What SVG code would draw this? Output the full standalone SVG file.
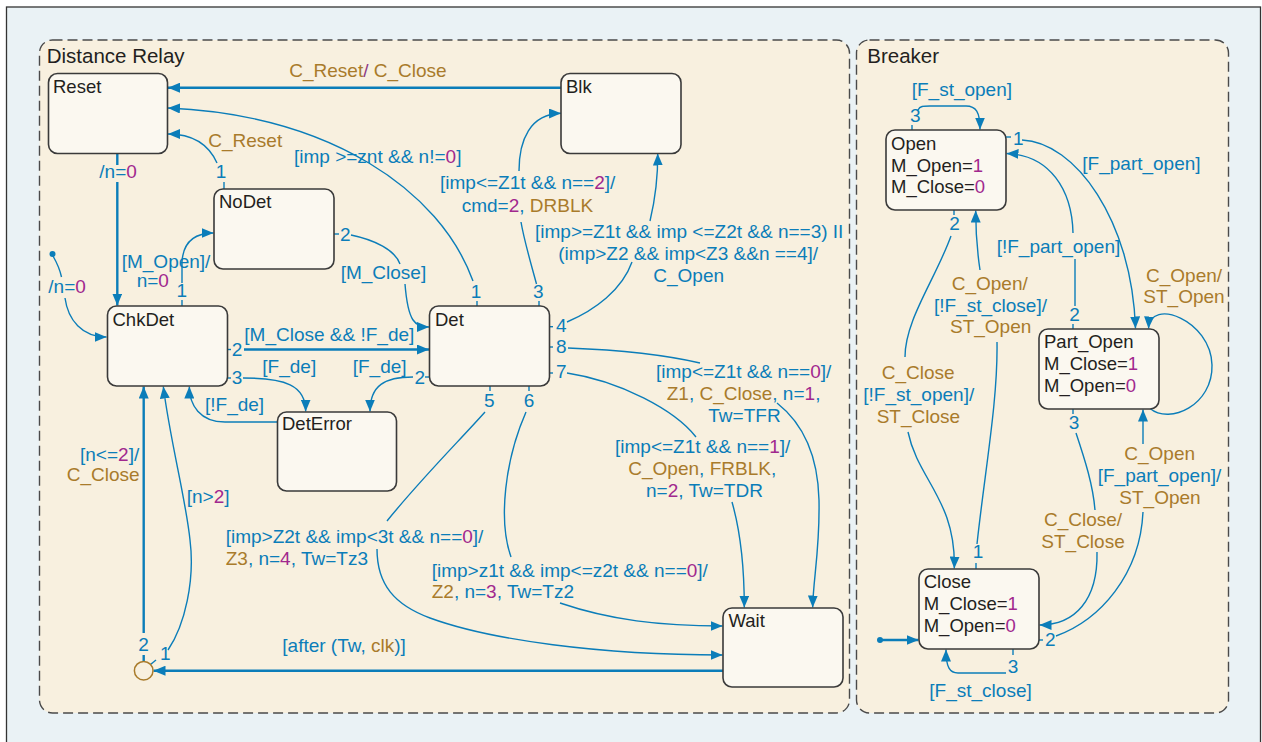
<svg xmlns="http://www.w3.org/2000/svg" width="1262" height="742" viewBox="0 0 1262 742">
<defs>
<marker id="ah" viewBox="0 0 12 10" refX="12" refY="5" markerWidth="12" markerHeight="10" orient="auto" markerUnits="userSpaceOnUse"><path d="M0,0 L12,5 L0,10 z" fill="#0b7db9"/></marker>
<style>
text{font-family:"Liberation Sans",Arial,sans-serif}
.t{font-size:19px;fill:#0b7db9}
.g{fill:#a97b2b}
.m{fill:#a1288e}
.sl{fill:#8d3a86}
.mid{text-anchor:middle}
.nl{font-size:18.5px;fill:#231f20}
.ttl{font-size:20.5px;fill:#231f20}
.c{fill:none;stroke:#0b7db9;stroke-width:1.4}
.k{fill:none;stroke:#0b7db9;stroke-width:2.4}
.a{marker-end:url(#ah)}
.st{fill:#fbf8f0;stroke:#3a3a3a;stroke-width:1.6}
.box{fill:#f8f0df;stroke:#4a4a4a;stroke-width:1.4;stroke-dasharray:10 5}
.dot{fill:#0b7db9}
</style>
</defs>
<rect x="0" y="0" width="1262" height="742" fill="#ffffff"/>
<rect x="6.5" y="7" width="1254" height="745" fill="#eaf2f5" stroke="#333" stroke-width="1.3"/>

<g id="container-distance-relay">
<rect class="box" x="39.5" y="40" width="810" height="673" rx="13"/>
<text class="ttl" x="46.7" y="62.7">Distance Relay</text>
</g>
<g id="container-breaker">
<rect class="box" x="856.5" y="40" width="372" height="673" rx="13"/>
<text class="ttl" x="867.3" y="62.7">Breaker</text>
</g>

<g id="connectors">
<!-- Blk -> Reset -->
<path class="k a" d="M561,87.7 L168,87.7"/>
<text class="t" x="289.3" y="77.3"><tspan class="g">C_Reset</tspan><tspan class="sl">/</tspan> <tspan class="g">C_Close</tspan></text>
<!-- Det(1) -> Reset -->
<path class="c" d="M477,306 L477,301"/>
<text class="t mid" x="476" y="298.3">1</text>
<path class="c a" d="M473,281 C440,190 330,115 168,108"/>
<text class="t" x="294" y="163.3">[imp &gt;=znt &amp;&amp; n!=<tspan class="m">0</tspan>]</text>
<!-- NoDet(1) -> Reset -->
<path class="c" d="M224,189 L224,182"/>
<text class="t mid" x="221" y="177.5">1</text>
<path class="c a" d="M217,163 C208,143 190,134 168,134"/>
<text class="t g" x="208.3" y="147.3">C_Reset</text>
<!-- Reset -> ChkDet -->
<path class="k" d="M117.3,153.5 L117.3,165"/>
<path class="k a" d="M117.3,182 L117.3,305.5"/>
<text class="t" x="99.3" y="178.3">/n=<tspan class="m">0</tspan></text>
<!-- default -> ChkDet -->
<circle class="dot" cx="52.5" cy="254" r="3"/>
<path class="c" d="M53,256 C57,263 60,270 61.5,277"/>
<path class="c a" d="M65,298 C68,320 82,337 106.5,337"/>
<text class="t" x="48.3" y="292.7">/n=<tspan class="m">0</tspan></text>
<!-- ChkDet(1) -> NoDet -->
<path class="c" d="M182,306 L182,300"/>
<text class="t mid" x="181.7" y="296.7">1</text>
<path class="c a" d="M182,283 L182,262 C183,245 192,233 213.5,233"/>
<text class="t" x="121.7" y="267.7">[M_Open]/</text>
<text class="t" x="136.7" y="287.3">n=<tspan class="m">0</tspan></text>
<!-- NoDet(2) -> Det -->
<path class="c" d="M334,234 L339,234"/>
<text class="t" x="340" y="241">2</text>
<path class="c" d="M351,235 C375,240 395,250 400,264"/>
<path class="c a" d="M405,284 C408,322 415,327 429,327"/>
<text class="t" x="340.7" y="279.3">[M_Close]</text>
<!-- ChkDet(2) -> Det -->
<path class="c" d="M227.5,349.5 L231,349.5"/>
<text class="t" x="231.7" y="355.7">2</text>
<path class="k a" d="M244,349.5 L429,349.5"/>
<text class="t" x="244.3" y="341">[M_Close &amp;&amp; !F_de]</text>
<!-- ChkDet(3) -> DetError -->
<path class="c" d="M227.5,378 L231,378"/>
<text class="t" x="231.7" y="384">3</text>
<path class="c a" d="M243,378 C285,378 305.7,385 305.7,411.5"/>
<text class="t" x="262.3" y="373.3">[F_de]</text>
<!-- Det(2) -> DetError -->
<path class="c" d="M429.5,377 L425,377"/>
<text class="t" x="414.5" y="384">2</text>
<path class="c a" d="M413,377 C385,377 370,385 370,411.5"/>
<text class="t" x="352.7" y="373.3">[F_de]</text>
<!-- DetError -> ChkDet -->
<path class="c a" d="M277.5,422 L225,422 C200,422 189.3,405 189.3,386.5"/>
<text class="t" x="205" y="410.7">[!F_de]</text>
<!-- Junction(2) -> ChkDet -->
<path class="k" d="M143.7,661.4 L143.7,655"/>
<text class="t" x="138.3" y="650.7">2</text>
<path class="k a" d="M143.7,633 L143.7,386.5"/>
<text class="t" x="80" y="460.7">[n&lt;=<tspan class="m">2</tspan>]/</text>
<text class="t g" x="66.7" y="480.7">C_Close</text>
<!-- Junction(1) -> ChkDet -->
<path class="c" d="M150.5,664.5 L156,660"/>
<text class="t" x="160" y="660">1</text>
<path class="c a" d="M168,650 C185,625 195,580 190,540 C186,500 170,440 163.3,386.5"/>
<text class="t" x="186.7" y="502.7">[n&gt;<tspan class="m">2</tspan>]</text>
<!-- Wait -> Junction -->
<path class="k a" d="M723,670.7 L153.5,670.7"/>
<text class="t" x="282.3" y="652.3">[after (Tw, <tspan class="g">clk</tspan>)]</text>
<!-- Det(3) -> Blk -->
<path class="c" d="M539,306 L539,301"/>
<text class="t mid" x="538.3" y="298.3">3</text>
<path class="c" d="M536.5,284 C530,260 524,240 521,222"/>
<path class="c a" d="M519,171 C519,140 530,114 561,113.3"/>
<text class="t" x="440" y="189.3">[imp&lt;=Z1t &amp;&amp; n==<tspan class="m">2</tspan>]/</text>
<text class="t" x="461.7" y="211.7">cmd=<tspan class="m">2</tspan>, <tspan class="g">DRBLK</tspan></text>
<!-- Det(4) -> Blk -->
<path class="c" d="M549.5,326.7 L553,326.7"/>
<text class="t" x="556" y="331.7">4</text>
<path class="c" d="M567,322 C595,310 622,290 632,262"/>
<path class="c a" d="M650,221 C655,200 658,180 657.7,153.5"/>
<text class="t" x="535" y="238.3">[imp&gt;=Z1t &amp;&amp; imp &lt;=Z2t &amp;&amp; n==3) II</text>
<text class="t" x="558.3" y="260">(imp&gt;Z2 &amp;&amp; imp&lt;Z3 &amp;&amp;n ==4]/</text>
<text class="t" x="653.3" y="281.7">C_Open</text>
<!-- Det(8) -> Wait -->
<path class="c" d="M549.5,347 L553,347"/>
<text class="t" x="556" y="352.7">8</text>
<path class="c" d="M568,348 C620,350 670,356 700,363"/>
<path class="c a" d="M777,403 C805,425 818,460 819,500 C820,550 813,580 812.7,607.5"/>
<text class="t" x="656" y="378.3">[imp&lt;=Z1t &amp;&amp; n==<tspan class="m">0</tspan>]/</text>
<text class="t" x="666.7" y="400"><tspan class="g">Z1</tspan>, <tspan class="g">C_Close</tspan>, n=<tspan class="m">1</tspan>,</text>
<text class="t" x="708.3" y="421.7">Tw=TFR</text>
<!-- Det(7) -> Wait -->
<path class="c" d="M549.5,373 L553,373"/>
<text class="t" x="556" y="378.3">7</text>
<path class="c" d="M567,373 C620,381 675,410 696,437"/>
<path class="c a" d="M732,502 C740,530 744.3,570 744.3,607.5"/>
<text class="t" x="615" y="453.3">[imp&lt;=Z1t &amp;&amp; n==<tspan class="m">1</tspan>]/</text>
<text class="t" x="628.3" y="475"><tspan class="g">C_Open</tspan>, <tspan class="g">FRBLK</tspan>,</text>
<text class="t" x="646" y="496.7">n=<tspan class="m">2</tspan>, Tw=TDR</text>
<!-- Det(5) -> Wait -->
<path class="c" d="M490,386 L490,391"/>
<text class="t mid" x="489.3" y="406.7">5</text>
<path class="c" d="M485,412 C460,440 420,480 387,521"/>
<path class="c a" d="M377,549 C377,585 395,605 430,618 C490,640 600,655 722.5,655"/>
<text class="t" x="225.7" y="543.3">[imp&gt;Z2t &amp;&amp; imp&lt;3t &amp;&amp; n==<tspan class="m">0</tspan>]/</text>
<text class="t" x="225.7" y="565"><tspan class="g">Z3</tspan>, n=<tspan class="m">4</tspan>, Tw=Tz3</text>
<!-- Det(6) -> Wait -->
<path class="c" d="M529,386 L529,391"/>
<text class="t mid" x="529" y="406.7">6</text>
<path class="c" d="M526,412 C505,460 498,520 511,557"/>
<path class="c a" d="M560,603 C610,620 660,626 722.5,626"/>
<text class="t" x="431.7" y="576.7">[imp&gt;z1t &amp;&amp; imp&lt;=z2t &amp;&amp; n==<tspan class="m">0</tspan>]/</text>
<text class="t" x="431.7" y="598.3"><tspan class="g">Z2</tspan>, n=<tspan class="m">3</tspan>, Tw=Tz2</text>

<!-- Breaker -->
<!-- Open self-loop -->
<path class="c" d="M912,130 L912,125"/>
<text class="t" x="910" y="121.7">3</text>
<path class="c a" d="M918,110 C920,106 923,106 930,106 L966,106 C976,106 980,112 980,129.5"/>
<text class="t" x="911.7" y="96">[F_st_open]</text>
<!-- Open(1) -> Part_Open -->
<path class="c" d="M1006,137 L1011,137"/>
<text class="t" x="1013" y="145">1</text>
<path class="c a" d="M1022,140 C1075,142 1132,220 1135.5,328.5"/>
<text class="t" x="1082.3" y="170">[F_part_open]</text>
<!-- Part_Open(2) -> Open -->
<path class="c" d="M1073,329 L1073,324"/>
<text class="t" x="1069.3" y="320.7">2</text>
<path class="c" d="M1075,306 L1075,259"/>
<path class="c a" d="M1073,233 C1072,190 1050,155 1006.5,153.5"/>
<text class="t" x="996.7" y="252.7">[!F_part_open]</text>
<!-- Open(2) -> Close -->
<path class="c" d="M954,210 L954,215"/>
<text class="t" x="949.3" y="230">2</text>
<path class="c" d="M951,236 C935,280 905,320 905,357"/>
<path class="c a" d="M908,432 C918,480 956,500 954.3,568.5"/>
<text class="t g" x="881.7" y="379">C_Close</text>
<text class="t" x="863.3" y="401">[!F_st_open]/</text>
<text class="t g" x="876.7" y="423.3">ST_Close</text>
<!-- Close(1) -> Open -->
<path class="c" d="M976,569 L976,563"/>
<text class="t" x="972.7" y="558.3">1</text>
<path class="c" d="M977,544 C985,470 998,400 997,342"/>
<path class="c a" d="M980,270 C977,250 975.7,230 975.7,210.5"/>
<text class="t g" x="951.7" y="290">C_Open/</text>
<text class="t" x="934" y="311.7">[!F_st_close]/</text>
<text class="t g" x="950" y="333.3">ST_Open</text>
<!-- Part_Open self-loop -->
<path class="c a" d="M1150,408.5 C1170,425 1213,405 1212,365 C1211,320 1150,297 1148.5,328.5"/>
<text class="t g" x="1146" y="281.7">C_Open/</text>
<text class="t g" x="1143.3" y="303.3">ST_Open</text>
<!-- Close(2) -> Part_Open -->
<path class="c" d="M1039,640 L1043,640"/>
<text class="t" x="1045" y="645.7">2</text>
<path class="c" d="M1056,636 C1100,620 1140,575 1143,512"/>
<path class="c a" d="M1143,444 L1143,409.5"/>
<text class="t g" x="1124.3" y="460">C_Open</text>
<text class="t" x="1097.7" y="481.7">[F_part_open]/</text>
<text class="t g" x="1119.3" y="504">ST_Open</text>
<!-- Part_Open(3) -> Close -->
<path class="c" d="M1073,409 L1073,414"/>
<text class="t" x="1068.7" y="429.3">3</text>
<path class="c" d="M1076,433 C1085,460 1093,485 1095,510"/>
<path class="c a" d="M1097,552 C1098,600 1075,625 1039.5,625"/>
<text class="t g" x="1044" y="525.7">C_Close/</text>
<text class="t g" x="1041.3" y="548.3">ST_Close</text>
<!-- Close default -->
<circle class="dot" cx="880" cy="640" r="3"/>
<path class="k a" d="M880,640 L918.5,640"/>
<!-- Close self-loop -->
<path class="c" d="M1013,649 L1013,655"/>
<text class="t" x="1007.7" y="672.7">3</text>
<path class="c a" d="M1006,673 L958,673 C950,673 946,668 946,649.5"/>
<text class="t" x="929.3" y="697.3">[F_st_close]</text>
</g>

<g id="node-reset"><rect class="st" x="48.5" y="73.5" width="119" height="80" rx="9"/><text class="nl" x="53" y="93">Reset</text></g>
<g id="node-blk"><rect class="st" x="561" y="73.5" width="120" height="80" rx="9"/><text class="nl" x="566" y="93">Blk</text></g>
<g id="node-nodet"><rect class="st" x="214" y="189" width="120" height="80" rx="9"/><text class="nl" x="219" y="207.5">NoDet</text></g>
<g id="node-chkdet"><rect class="st" x="107.5" y="306" width="120" height="80" rx="9"/><text class="nl" x="112.5" y="326">ChkDet</text></g>
<g id="node-det"><rect class="st" x="429.5" y="306" width="120" height="80" rx="9"/><text class="nl" x="435" y="326">Det</text></g>
<g id="node-deterror"><rect class="st" x="277.5" y="412" width="119" height="79" rx="9"/><text class="nl" x="282" y="430">DetError</text></g>
<g id="node-wait"><rect class="st" x="723" y="608" width="120" height="79" rx="9"/><text class="nl" x="728.5" y="627">Wait</text></g>
<g id="node-junction"><circle cx="143.7" cy="670.7" r="9.3" fill="#f8f0df" stroke="#a97b2b" stroke-width="1.5"/></g>
<g id="node-open"><rect class="st" x="886" y="130" width="120" height="80" rx="9"/><text class="nl" x="891" y="150">Open</text><text class="nl" x="891" y="171.7">M_Open=<tspan class="m">1</tspan></text><text class="nl" x="891" y="193.3">M_Close=<tspan class="m">0</tspan></text></g>
<g id="node-part-open"><rect class="st" x="1039" y="329" width="120" height="80" rx="9"/><text class="nl" x="1044" y="348.3">Part_Open</text><text class="nl" x="1044" y="370">M_Close=<tspan class="m">1</tspan></text><text class="nl" x="1044" y="392.3">M_Open=<tspan class="m">0</tspan></text></g>
<g id="node-close"><rect class="st" x="919" y="569" width="120" height="80" rx="9"/><text class="nl" x="923.7" y="588.3">Close</text><text class="nl" x="923.7" y="610">M_Close=<tspan class="m">1</tspan></text><text class="nl" x="923.7" y="632.3">M_Open=<tspan class="m">0</tspan></text></g>
</svg>
